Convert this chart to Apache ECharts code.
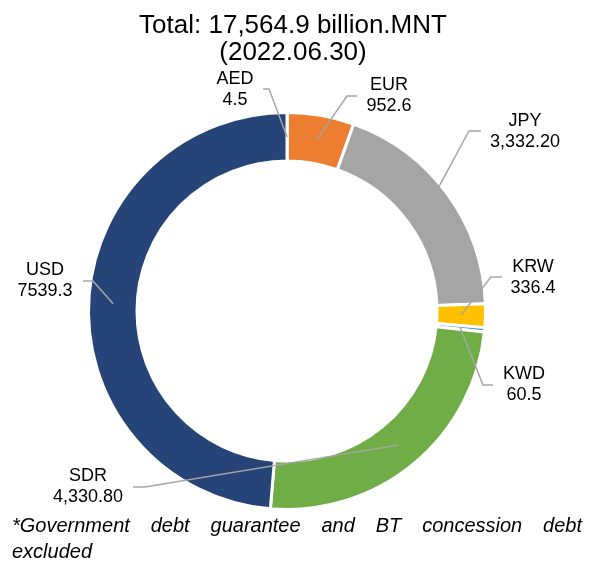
<!DOCTYPE html>
<html>
<head>
<meta charset="utf-8">
<script src="https://cdn.jsdelivr.net/npm/echarts@6/dist/echarts.min.js"></script>
<style>
  html, body { margin: 0; padding: 0; background: #fff; }
  #chart { width: 589px; height: 563px; }
</style>
</head>
<body>
<div id="chart"></div>
<script>
// currencies, clockwise from 12 o'clock
const currencies = ["AED", "EUR", "JPY", "KRW", "KWD", "SDR", "USD"];
// slice sizes as drawn (the USD slice is bigger than its printed number)
const sliceValues = [4.5, 952.6, 3332.2, 336.4, 60.5, 4330.8, 8547.9];
// numbers printed next to each slice
const labelValues = ["4.5", "952.6", "3,332.20", "336.4", "60.5", "4,330.80", "7539.3"];
const colors = ["#4472C4", "#ED7D31", "#A5A5A5", "#FFC000", "#5B9BD5", "#70AD47", "#264478"];

const titleText = "Total: 17,564.9 billion.MNT\n(2022.06.30)";
const noteLines = ["*Government debt guarantee and BT concession debt", "excluded"];

// label centre, and leader line: [start x at label, elbow x, y]
const labelAt = [[235, 90], [389, 96], [525, 132], [533, 278], [524, 385], [88, 487], [45, 281]];
const lineAt = [[263, 269, 89], [357, 347, 96], [481, 469, 131], [502, 491, 277], [493, 483, 385], [133, 145, 487], [83, 93, 281]];

const FONT = '"Liberation Sans", Arial, sans-serif';

// spread words of one line between x0 and x1 (the footnote is justified)
function justify(text, x0, x1, y) {
  const ctx = document.createElement("canvas").getContext("2d");
  ctx.font = "italic 20px " + FONT;
  const words = text.split(" ");
  const widths = words.map(w => ctx.measureText(w).width);
  const total = widths.reduce((s, w) => s + w, 0);
  const gap = words.length > 1 ? (x1 - x0 - total) / (words.length - 1) : 0;
  let x = x0;
  return words.map((w, k) => {
    const el = {
      type: "text",
      x: x,
      y: y,
      silent: true,
      style: {
        text: w,
        font: "italic 20px " + FONT,
        fill: "#000",
        textAlign: "left",
        textVerticalAlign: "middle",
        verticalAlign: "middle",
      },
    };
    x += widths[k] + gap;
    return el;
  });
}

const myChart = echarts.init(document.getElementById("chart"));

const data = currencies.map((name, i) => ({
  name: name,
  value: sliceValues[i],
  itemStyle: { color: colors[i] },
}));

const option = {
  animation: false,
  backgroundColor: "#ffffff",
  title: {
    text: titleText,
    left: 288,
    top: 7,
    textAlign: "center",
    textStyle: {
      fontFamily: FONT,
      fontSize: 26,
      lineHeight: 27,
      fontWeight: "normal",
      color: "#000",
    },
  },
  series: [
    {
      // the ring itself
      type: "pie",
      z: 2,
      center: [287, 311],
      radius: [150, 198.5],
      startAngle: 90,
      silent: true,
      avoidLabelOverlap: false,
      itemStyle: { borderColor: "#ffffff", borderWidth: 3 },
      label: { show: false },
      labelLine: { show: false },
      data: data,
    },
    {
      // invisible pie out to the middle of the ring: gives leader line anchors
      type: "pie",
      z: 5,
      center: [287, 311],
      radius: [0, 174],
      startAngle: 90,
      silent: true,
      avoidLabelOverlap: false,
      itemStyle: { color: "rgba(0,0,0,0)", borderWidth: 0 },
      emphasis: { disabled: true },
      label: {
        show: true,
        position: "outside",
        fontFamily: FONT,
        fontSize: 18,
        lineHeight: 21,
        color: "#000",
        align: "center",
        formatter: p => p.name + "\n" + labelValues[p.dataIndex],
      },
      labelLine: {
        show: true,
        length: 10,
        length2: 10,
        lineStyle: { color: "#A6A6A6", width: 1.5 },
      },
      labelLayout: p => {
        const i = p.dataIndex;
        const l = lineAt[i];
        const out = {
          x: labelAt[i][0],
          y: labelAt[i][1],
          align: "center",
          verticalAlign: "middle",
        };
        const a = p.labelLinePoints && p.labelLinePoints[0];
        if (a) {
          out.labelLinePoints = [[a[0], a[1]], [l[1], l[2]], [l[0], l[2]]];
        }
        return out;
      },
      data: currencies.map((name, i) => ({ name: name, value: sliceValues[i] })),
    },
  ],
  graphic: [].concat(justify(noteLines[0], 12, 582, 526), justify(noteLines[1], 12, 582, 552)),
};

myChart.setOption(option);
</script>
</body>
</html>
